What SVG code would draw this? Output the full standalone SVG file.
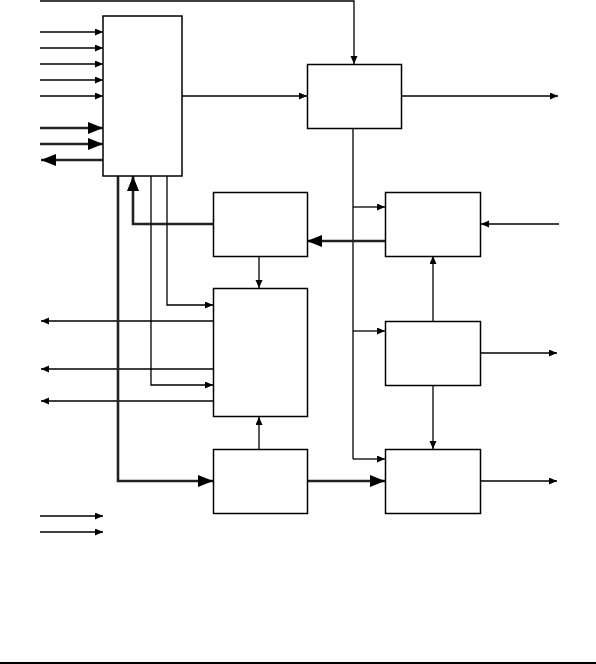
<svg xmlns="http://www.w3.org/2000/svg" width="596" height="664" viewBox="0 0 596 664">
<style>
.box{fill:#fff;stroke:#000;stroke-width:1.5}
.thin{fill:none;stroke:#000;stroke-width:1.3;marker-end:url(#a)}
.line{fill:none;stroke:#000;stroke-width:1.3}
.thick{fill:none;stroke:#222;stroke-width:2.6;marker-end:url(#b)}
</style>
<defs>
<marker id="a" markerUnits="userSpaceOnUse" markerWidth="9" markerHeight="8" refX="8" refY="3.5" orient="auto"><path d="M0,0 L8,3.5 L0,7 z" fill="#000"/></marker>
<marker id="b" markerUnits="userSpaceOnUse" markerWidth="16" markerHeight="13" refX="15" refY="6" orient="auto"><path d="M0,0 L15,6 L0,12 z" fill="#000"/></marker>
</defs>
<rect width="596" height="664" fill="#fff"/>
<g id="connectors">
<path class="thin" d="M40,1 H354 V64"/>
<path class="thin" d="M40,32 H103"/>
<path class="thin" d="M40,48 H103"/>
<path class="thin" d="M40,64 H103"/>
<path class="thin" d="M40,80 H103"/>
<path class="thin" d="M40,96 H103"/>
<path class="thick" d="M40,128 H103"/>
<path class="thick" d="M40,144 H103"/>
<path class="thick" d="M103,160 H41"/>
<path class="thin" d="M182,96 H307"/>
<path class="thin" d="M401,96 H558"/>
<path class="line" d="M353,128 V459"/>
<path class="thin" d="M353,207 H385"/>
<path class="thin" d="M353,331 H385"/>
<path class="thin" d="M353,459 H385"/>
<path class="thick" d="M213,224 H133 V176"/>
<path class="thick" d="M385,241 H307"/>
<path class="thin" d="M259,256 V288"/>
<path class="thin" d="M167,176 V305 H213"/>
<path class="thin" d="M151,176 V385 H213"/>
<path class="thin" d="M213,321 H41"/>
<path class="thin" d="M213,369 H41"/>
<path class="thin" d="M213,401 H41"/>
<path class="thin" d="M259,449 V417"/>
<path class="thick" d="M118,176 V481 H213"/>
<path class="thick" d="M307,481 H385"/>
<path class="thin" d="M559,224 H481"/>
<path class="thin" d="M433,321 V256"/>
<path class="thin" d="M480,353 H557"/>
<path class="thin" d="M433,385 V449"/>
<path class="thin" d="M480,481 H557"/>
<path class="thin" d="M40,516 H103"/>
<path class="thin" d="M40,532 H103"/>
</g>
<g id="nodeA"><rect class="box" x="103" y="16" width="79" height="160"/></g>
<g id="nodeB"><rect class="box" x="307.5" y="64.5" width="94" height="64"/></g>
<g id="nodeC"><rect class="box" x="213.5" y="192.5" width="94" height="64"/></g>
<g id="nodeD"><rect class="box" x="213.5" y="288.5" width="94" height="128"/></g>
<g id="nodeE"><rect class="box" x="213.5" y="449.5" width="94" height="64"/></g>
<g id="nodeF"><rect class="box" x="385.5" y="192.5" width="95" height="64"/></g>
<g id="nodeG"><rect class="box" x="385.5" y="321.5" width="95" height="64"/></g>
<g id="nodeH"><rect class="box" x="385.5" y="449.5" width="95" height="64"/></g>
<path d="M0,663 H596" stroke="#000" stroke-width="2"/>
</svg>
